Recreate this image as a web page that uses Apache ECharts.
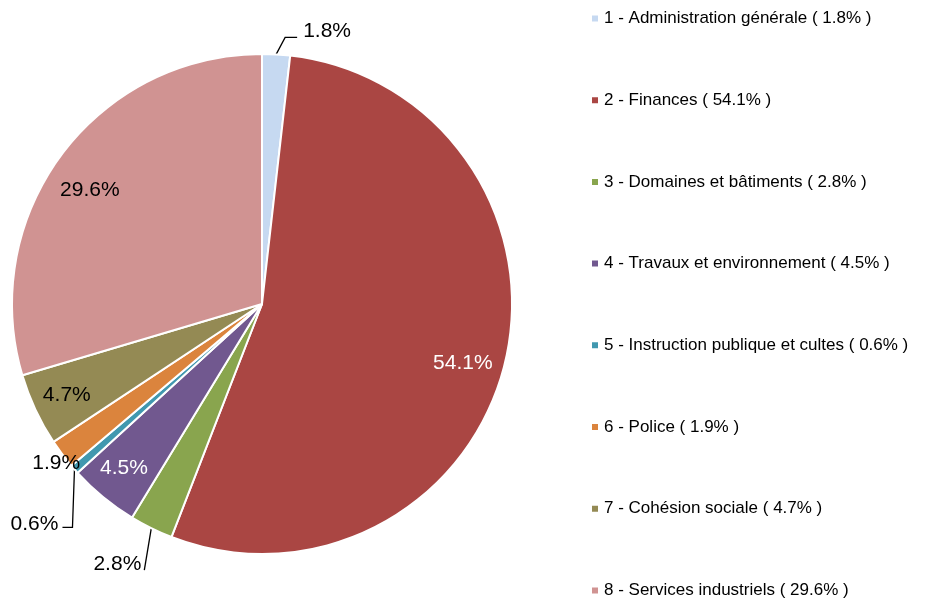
<!DOCTYPE html>
<html>
<head>
<meta charset="utf-8">
<script src="https://cdn.jsdelivr.net/npm/echarts@6/dist/echarts.min.js"></script>
<style>
  html, body { margin: 0; padding: 0; background: #fff; }
  #main { width: 926px; height: 598px; }
</style>
</head>
<body>
<div id="main"></div>
<script>
var names = [
  '1 - Administration générale',
  '2 - Finances',
  '3 - Domaines et bâtiments',
  '4 - Travaux et environnement',
  '5 - Instruction publique et cultes',
  '6 - Police',
  '7 - Cohésion sociale',
  '8 - Services industriels'
];
var values = [1.8, 54.1, 2.8, 4.5, 0.6, 1.9, 4.7, 29.6];
var colors = ['#C6D9F1', '#AA4643', '#89A54E', '#71588F', '#4198AF', '#DB843D', '#948A54', '#D09392'];

// which slices get their label outside (with leader line) vs inside
var outsideLabel = [true, false, true, false, true, true, false, false];
var insideLabelColor = ['#000', '#fff', '#000', '#fff', '#000', '#000', '#000', '#000'];
var lineVisible = [true, false, true, false, true, false, false, false];

// leader-line bends and label anchors, relative to the slice edge point
// [bend points..., [label x, label y, align]]
var leaderShape = {
  0: { pts: [[9, -17], [21, -17]], label: [27, -23, 'left'] },
  2: { pts: [[-7, 42]], label: [-10, 36, 'right'] },
  4: { pts: [[-2, 58], [-12, 58]], label: [-16, 55, 'right'] },
  5: { pts: [], label: [18, 9, 'right'] }
};
// small nudges of the inside labels
var innerNudge = [null, [-4, 9], null, [-4, 1], null, null, [-4, 2], [-3, 12]];

var FONT = 'Liberation Sans';

function pct(v) { return v.toFixed(1) + '%'; }

var mainData = values.map(function (v, i) {
  return {
    name: names[i],
    value: v,
    itemStyle: { color: colors[i] },
    label: { show: outsideLabel[i] },
    labelLine: {
      show: outsideLabel[i],
      length: 10,
      length2: 10,
      lineStyle: { opacity: lineVisible[i] ? 1 : 0 }
    }
  };
});

var innerData = values.map(function (v, i) {
  return {
    name: names[i],
    value: v,
    label: { show: !outsideLabel[i], color: insideLabelColor[i] }
  };
});

var chart = echarts.init(document.getElementById('main'), null, { renderer: 'canvas' });

var option = {
  animation: false,
  color: colors,
  legend: {
    orient: 'vertical',
    left: 590,
    top: 10,
    height: 640,
    padding: 0,
    itemWidth: 8,
    itemHeight: 8,
    itemGap: 64.7,
    icon: 'rect',
    selectedMode: false,
    data: names,
    textStyle: { fontFamily: FONT, fontSize: 17, color: '#000' },
    formatter: function (name) {
      var i = names.indexOf(name);
      return name + ' ( ' + pct(values[i]) + ' )';
    }
  },
  series: [
    {
      type: 'pie',
      center: [262, 304],
      radius: [0, 250],
      startAngle: 90,
      clockwise: true,
      avoidLabelOverlap: false,
      emphasis: { disabled: true },
      itemStyle: { borderColor: '#fff', borderWidth: 2 },
      label: {
        position: 'outside',
        fontFamily: FONT,
        fontSize: 21,
        color: '#000',
        formatter: function (p) { return pct(p.value); }
      },
      labelLine: { lineStyle: { color: '#000', width: 1.3 } },
      labelLayout: function (p) {
        var s = leaderShape[p.dataIndex];
        if (!s || !p.labelLinePoints) return {};
        var p0 = p.labelLinePoints[0];
        var pts = [[p0[0], p0[1]]];
        s.pts.forEach(function (d) { pts.push([p0[0] + d[0], p0[1] + d[1]]); });
        if (pts.length < 2) pts.push([p0[0], p0[1]]);
        return {
          x: p0[0] + s.label[0],
          y: p0[1] + s.label[1],
          align: s.label[2],
          verticalAlign: 'middle',
          labelLinePoints: pts
        };
      },
      data: mainData
    },
    {
      // transparent ring used only to place the inside labels further out
      type: 'pie',
      center: [262, 304],
      radius: [166, 250],
      startAngle: 90,
      clockwise: true,
      silent: true,
      emphasis: { disabled: true },
      itemStyle: { color: 'rgba(0,0,0,0)' },
      label: {
        position: 'inside',
        fontFamily: FONT,
        fontSize: 21,
        formatter: function (p) { return pct(p.value); }
      },
      labelLine: { show: false },
      labelLayout: function (p) {
        var n = innerNudge[p.dataIndex];
        return n ? { dx: n[0], dy: n[1] } : {};
      },
      data: innerData
    }
  ]
};

chart.setOption(option);
</script>
</body>
</html>
